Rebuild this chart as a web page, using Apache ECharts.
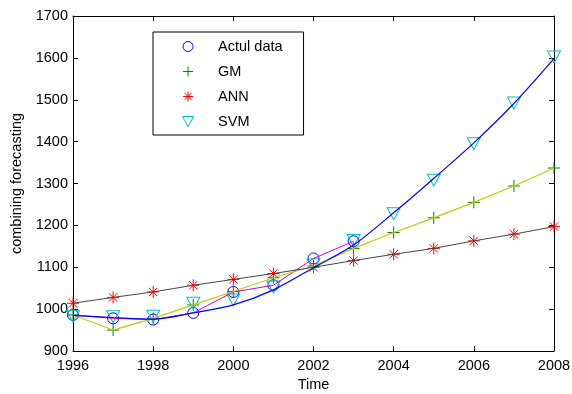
<!DOCTYPE html>
<html><head><meta charset="utf-8">
<script src="https://cdn.jsdelivr.net/npm/echarts@6/dist/echarts.min.js"></script>
<style>html,body{margin:0;padding:0;background:#fff}#c{width:572px;height:394px}</style>
</head><body><div id="c"></div>
<script>
var years = [1996,1997,1998,1999,2000,2001,2002,2003,2004,2005,2006,2007,2008];
var actualYears = [1996,1997,1998,1999,2000,2001,2002,2003];
var actual = [986,978,975,991,1041,1057,1121,1162];
var gm = [986,950,978,1010,1042,1075,1103,1145,1183,1218,1255,1294,1337];
var ann = [1014,1028,1041,1057,1071,1085,1100,1116,1131,1145,1163,1179,1197];
var svm = [983,982,983,1014,1022,1053,1106,1164,1228,1308,1395,1492,1602];
var svmCurve = [985,980,976,991,1010,1046,1099,1153,1230,1312,1397,1491,1598];
var xTicks = [1996,1998,2000,2002,2004,2006,2008];

function pairs(xs, ys){ return xs.map(function(x,i){return [x, ys[i]];}); }

var plusPath = 'path://M0,5L10,5M5,0L5,10';
var starPath = 'path://M0,5L10,5M5,0L5,10M1.5,1.5L8.5,8.5M8.5,1.5L1.5,8.5';
var triPath = 'path://M0,0L10,0L5,9Z';
var font = '"Liberation Sans", Arial, sans-serif';

var chart = echarts.init(document.getElementById('c'), null, {renderer:'canvas'});
var axisCommon = {
  axisLine:{show:true, onZero:false, lineStyle:{color:'#000', width:1}},
  axisTick:{show:true, inside:true, length:5, lineStyle:{color:'#000'}},
  splitLine:{show:false}
};
chart.setOption({
  animation:false,
  textStyle:{fontFamily:font},
  grid:{left:73, right:18, top:16, bottom:43, outerBoundsMode:'none', containLabel:false},
  xAxis:[
    Object.assign({type:'value', min:1996, max:2008, interval:2, position:'bottom',
      name:'Time', nameLocation:'middle', nameGap:26,
      nameTextStyle:{fontSize:14.5, color:'#000', fontFamily:font},
      axisLabel:{fontSize:14.5, color:'#000', margin:7, fontFamily:font,
        formatter:function(v){return xTicks.indexOf(v)>=0 ? String(v) : '';}}}, axisCommon),
    Object.assign({type:'value', min:1996, max:2008, interval:2, position:'top',
      axisLabel:{show:false}}, axisCommon)
  ],
  yAxis:[
    Object.assign({type:'value', min:900, max:1700, interval:100, position:'left',
      name:'combining forecasting', nameLocation:'middle', nameGap:49, nameRotate:90,
      nameTextStyle:{fontSize:14.5, color:'#000', fontFamily:font},
      axisLabel:{fontSize:14.5, color:'#000', margin:5, fontFamily:font,
        formatter:function(v){return String(v);}}}, axisCommon),
    Object.assign({type:'value', min:900, max:1700, interval:100, position:'right',
      axisLabel:{show:false}}, axisCommon)
  ],
  legend:{
    orient:'vertical', left:153, top:32,
    padding:[7,21,6,27], itemGap:10, itemWidth:50, itemHeight:10,
    borderColor:'#000', borderWidth:1, backgroundColor:'#fff',
    textStyle:{fontSize:14.5, color:'#000', fontFamily:font},
    itemStyle:{borderWidth:1},
    data:['Actul data','GM','ANN','SVM']
  },
  series:[
    {name:'ActualLine', type:'line', data:pairs(actualYears, actual), showSymbol:false,
      lineStyle:{color:'#d000d0', width:1}, z:3},
    {name:'GMLine', type:'line', data:pairs(years, gm), showSymbol:false,
      lineStyle:{color:'#c8c800', width:1.2}, z:3},
    {name:'ANNLine', type:'line', data:pairs(years, ann), showSymbol:false,
      lineStyle:{color:'#444', width:1}, z:3},
    {name:'SVMLine', type:'line', data:pairs(years, svmCurve), showSymbol:false, smooth:0.3,
      lineStyle:{color:'#0000ff', width:1.2}, z:3},
    {name:'Actul data', type:'scatter', data:pairs(actualYears, actual), symbol:'circle', symbolSize:11,
      itemStyle:{color:'none', borderColor:'#0000ff', borderWidth:1, opacity:1}, z:2},
    {name:'GM', type:'scatter', data:pairs(years, gm), symbol:plusPath, symbolSize:12,
      itemStyle:{color:'none', borderColor:'#008000', borderWidth:1, opacity:1}, z:2},
    {name:'ANN', type:'scatter', data:pairs(years, ann), symbol:starPath, symbolSize:12,
      itemStyle:{color:'none', borderColor:'#ff0000', borderWidth:1, opacity:1}, z:2},
    {name:'SVM', type:'scatter', data:pairs(years, svm), symbol:triPath, symbolSize:[13,12],
      itemStyle:{color:'none', borderColor:'#00c0c0', borderWidth:1, opacity:1}, z:2}
  ]
});
</script></body></html>
